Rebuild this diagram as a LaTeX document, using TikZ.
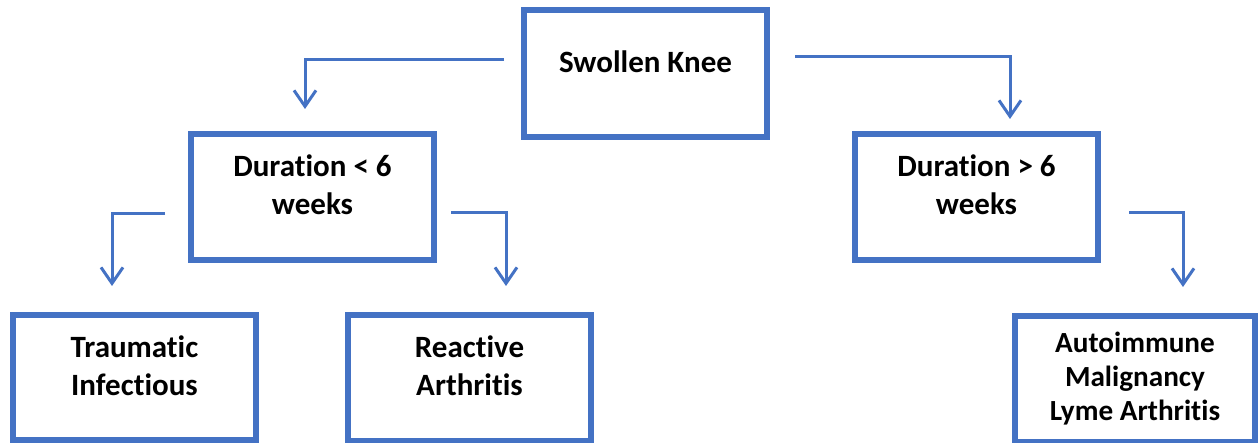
\documentclass[tikz,border=0pt]{standalone}
\usepackage{fontspec}
\setmainfont{Carlito}[Ligatures=NoCommon]
\usepackage{tikz}
\usetikzlibrary{arrows.meta}
\definecolor{KneeBlue}{RGB}{68,114,196}

\begin{document}
\begin{tikzpicture}[x=0.5pt,y=-0.5pt,
  box/.style n args={2}{draw=KneeBlue,line width=3pt,minimum width=#1*0.5pt,minimum height=#2*0.5pt,inner sep=0pt,rectangle},
  boxtext/.style={font=\bfseries\fontsize{15.5}{19}\selectfont,align=center,text=black,yshift=#1*0.5pt},
  conn/.style={draw=KneeBlue,line width=1.5pt,-{Straight Barb[length=8pt,width=11pt,line width=1.5pt]}}]
\useasboundingbox (0,0) rectangle (1259,443);
   \node[box={243}{127},label={[boxtext=12,name=knee-t]center:Swollen Knee}](knee) at (645.5,73.5) {};
   \node[box={243}{126},label={[boxtext=12,name=dshort-t]center:Duration < 6\\weeks}](dshort) at (312.5,197) {};
   \node[box={243}{126},label={[boxtext=12,name=dlong-t]center:Duration > 6\\weeks}](dlong) at (976.5,197) {};
   \node[box={243}{125},label={[boxtext=12,name=trauma-t]center:Traumatic\\Infectious}](trauma) at (134.5,377.5) {};
   \node[box={243}{126},label={[boxtext=12,name=reactive-t]center:Reactive\\Arthritis}](reactive) at (469.5,378) {};
   \node[box={240}{126},label={[boxtext=0,font=\bfseries\fontsize{14.6}{17}\selectfont,name=auto-t]center:Autoimmune\\Malignancy\\Lyme Arthritis}](auto) at (1135,379) {};
% elbow arrows
\draw[conn] ([shift={(-17,-13.5)}]knee.west) -| ([shift={(-7.5,-22)}]dshort.north);
\draw[conn] ([shift={(25,-16.5)}]knee.east) -| ([shift={(33.5,-12)}]dlong.north);
\draw[conn] ([shift={(-23,17)}]dshort.west) -| ([shift={(-22.5,-26)}]trauma.north);
\draw[conn] ([shift={(14,16)}]dshort.east) -| ([shift={(36.5,-26)}]reactive.north);
\draw[conn] ([shift={(28,16)}]dlong.east) -| ([shift={(48,-26)}]auto.north);
\end{tikzpicture}
\end{document}
